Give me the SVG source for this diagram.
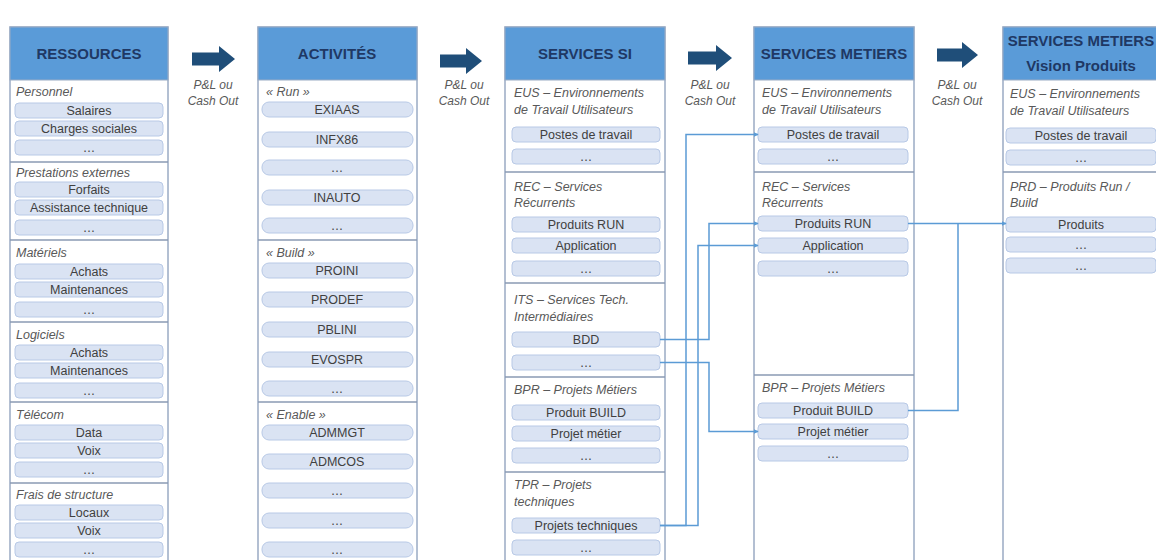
<svg xmlns="http://www.w3.org/2000/svg" width="1156" height="560" viewBox="0 0 1156 560">
<style>
.col{fill:#ffffff;stroke:#9aabc4;stroke-width:1.5}
.hdr{fill:#5a9bd8;stroke:#9aabc4;stroke-width:1}
.ht{font-family:"Liberation Sans",Arial,sans-serif;font-weight:bold;font-size:15px;fill:#1f3864;text-anchor:middle}
.div{stroke:#8a9ab3;stroke-width:1.5}
.bx{fill:#dae3f3;stroke:#b8c9e6;stroke-width:1}
.bt{font-family:"Liberation Sans",Arial,sans-serif;font-size:12.5px;fill:#404040;text-anchor:middle}
.lb{font-family:"Liberation Sans",Arial,sans-serif;font-size:12.5px;font-style:italic;fill:#595959}
.pl{font-family:"Liberation Sans",Arial,sans-serif;font-size:12px;font-style:italic;fill:#595959;text-anchor:middle}
.arr{fill:#1f4e79}
.cn{fill:none;stroke:#5b9bd5;stroke-width:1.5}
</style>
<defs>
<marker id="ah" viewBox="0 0 8 8" refX="7" refY="4" markerWidth="5" markerHeight="5" orient="auto" markerUnits="userSpaceOnUse">
<path d="M0,0 L8,4 L0,8 Z" fill="#5b9bd5"/>
</marker>
</defs>
<rect width="1156" height="560" fill="#ffffff"/>

<!-- Column 1: RESSOURCES -->
<g id="ressources">
<rect class="col" x="10" y="27" width="158" height="540"/>
<rect class="hdr" x="10" y="27" width="158" height="53"/>
<text class="ht" x="89" y="59">RESSOURCES</text>
<line class="div" x1="10" y1="162" x2="168" y2="162"/>
<line class="div" x1="10" y1="240" x2="168" y2="240"/>
<line class="div" x1="10" y1="322" x2="168" y2="322"/>
<line class="div" x1="10" y1="402" x2="168" y2="402"/>
<line class="div" x1="10" y1="483" x2="168" y2="483"/>
<text class="lb" x="16" y="96">Personnel</text>
<text class="lb" x="16" y="177">Prestations externes</text>
<text class="lb" x="16" y="257">Matériels</text>
<text class="lb" x="16" y="339">Logiciels</text>
<text class="lb" x="16" y="419">Télécom</text>
<text class="lb" x="16" y="499">Frais de structure</text>
<g id="r-salaires"><rect class="bx" x="15" y="103" width="148" height="15" rx="4"/><text class="bt" x="89" y="115">Salaires</text></g>
<g id="r-charges"><rect class="bx" x="15" y="121" width="148" height="15" rx="4"/><text class="bt" x="89" y="133">Charges sociales</text></g>
<g id="r-pers-etc"><rect class="bx" x="15" y="140" width="148" height="15" rx="4"/><text class="bt" x="89" y="152">…</text></g>
<g id="r-forfaits"><rect class="bx" x="15" y="182" width="148" height="15" rx="4"/><text class="bt" x="89" y="194">Forfaits</text></g>
<g id="r-assistance"><rect class="bx" x="15" y="200" width="148" height="15" rx="4"/><text class="bt" x="89" y="212">Assistance technique</text></g>
<g id="r-presta-etc"><rect class="bx" x="15" y="220" width="148" height="15" rx="4"/><text class="bt" x="89" y="232">…</text></g>
<g id="r-mat-achats"><rect class="bx" x="15" y="264" width="148" height="15" rx="4"/><text class="bt" x="89" y="276">Achats</text></g>
<g id="r-mat-maint"><rect class="bx" x="15" y="282" width="148" height="15" rx="4"/><text class="bt" x="89" y="294">Maintenances</text></g>
<g id="r-mat-etc"><rect class="bx" x="15" y="302" width="148" height="15" rx="4"/><text class="bt" x="89" y="314">…</text></g>
<g id="r-log-achats"><rect class="bx" x="15" y="345" width="148" height="15" rx="4"/><text class="bt" x="89" y="357">Achats</text></g>
<g id="r-log-maint"><rect class="bx" x="15" y="363" width="148" height="15" rx="4"/><text class="bt" x="89" y="375">Maintenances</text></g>
<g id="r-log-etc"><rect class="bx" x="15" y="383" width="148" height="15" rx="4"/><text class="bt" x="89" y="395">…</text></g>
<g id="r-data"><rect class="bx" x="15" y="425" width="148" height="15" rx="4"/><text class="bt" x="89" y="437">Data</text></g>
<g id="r-voix"><rect class="bx" x="15" y="443" width="148" height="15" rx="4"/><text class="bt" x="89" y="455">Voix</text></g>
<g id="r-tel-etc"><rect class="bx" x="15" y="462" width="148" height="15" rx="4"/><text class="bt" x="89" y="474">…</text></g>
<g id="r-locaux"><rect class="bx" x="15" y="505" width="148" height="15" rx="4"/><text class="bt" x="89" y="517">Locaux</text></g>
<g id="r-voix2"><rect class="bx" x="15" y="523" width="148" height="15" rx="4"/><text class="bt" x="89" y="535">Voix</text></g>
<g id="r-frais-etc"><rect class="bx" x="15" y="542" width="148" height="15" rx="4"/><text class="bt" x="89" y="554">…</text></g>
</g>

<!-- Column 2: ACTIVITES -->
<g id="activites">
<rect class="col" x="258" y="27" width="159" height="540"/>
<rect class="hdr" x="258" y="27" width="159" height="53"/>
<text class="ht" x="337" y="59">ACTIVITÉS</text>
<line class="div" x1="258" y1="240" x2="417" y2="240"/>
<line class="div" x1="258" y1="402" x2="417" y2="402"/>
<text class="lb" x="266" y="96">« Run »</text>
<text class="lb" x="266" y="257">« Build »</text>
<text class="lb" x="266" y="419">« Enable »</text>
<g id="a-exiaas"><rect class="bx" x="262" y="102" width="151" height="15" rx="7"/><text class="bt" x="337" y="114">EXIAAS</text></g>
<g id="a-infx86"><rect class="bx" x="262" y="132" width="151" height="15" rx="7"/><text class="bt" x="337" y="144">INFX86</text></g>
<g id="a-run-etc1"><rect class="bx" x="262" y="160" width="151" height="15" rx="7"/><text class="bt" x="337" y="172">…</text></g>
<g id="a-inauto"><rect class="bx" x="262" y="190" width="151" height="15" rx="7"/><text class="bt" x="337" y="202">INAUTO</text></g>
<g id="a-run-etc2"><rect class="bx" x="262" y="218" width="151" height="15" rx="7"/><text class="bt" x="337" y="230">…</text></g>
<g id="a-proini"><rect class="bx" x="262" y="263" width="151" height="15" rx="7"/><text class="bt" x="337" y="275">PROINI</text></g>
<g id="a-prodef"><rect class="bx" x="262" y="292" width="151" height="15" rx="7"/><text class="bt" x="337" y="304">PRODEF</text></g>
<g id="a-pblini"><rect class="bx" x="262" y="322" width="151" height="15" rx="7"/><text class="bt" x="337" y="334">PBLINI</text></g>
<g id="a-evospr"><rect class="bx" x="262" y="352" width="151" height="15" rx="7"/><text class="bt" x="337" y="364">EVOSPR</text></g>
<g id="a-build-etc"><rect class="bx" x="262" y="381" width="151" height="15" rx="7"/><text class="bt" x="337" y="393">…</text></g>
<g id="a-admmgt"><rect class="bx" x="262" y="425" width="151" height="15" rx="7"/><text class="bt" x="337" y="437">ADMMGT</text></g>
<g id="a-admcos"><rect class="bx" x="262" y="454" width="151" height="15" rx="7"/><text class="bt" x="337" y="466">ADMCOS</text></g>
<g id="a-en-etc1"><rect class="bx" x="262" y="483" width="151" height="15" rx="7"/><text class="bt" x="337" y="495">…</text></g>
<g id="a-en-etc2"><rect class="bx" x="262" y="513" width="151" height="15" rx="7"/><text class="bt" x="337" y="525">…</text></g>
<g id="a-en-etc3"><rect class="bx" x="262" y="542" width="151" height="15" rx="7"/><text class="bt" x="337" y="554">…</text></g>
</g>

<!-- Column 3: SERVICES SI -->
<g id="services-si">
<rect class="col" x="505" y="27" width="160" height="540"/>
<rect class="hdr" x="505" y="27" width="160" height="53"/>
<text class="ht" x="585" y="59">SERVICES SI</text>
<line class="div" x1="505" y1="172" x2="665" y2="172"/>
<line class="div" x1="505" y1="283" x2="665" y2="283"/>
<line class="div" x1="505" y1="377" x2="665" y2="377"/>
<line class="div" x1="505" y1="472" x2="665" y2="472"/>
<text class="lb" x="514" y="97">EUS – Environnements</text>
<text class="lb" x="514" y="114">de Travail Utilisateurs</text>
<text class="lb" x="514" y="191">REC – Services</text>
<text class="lb" x="514" y="207">Récurrents</text>
<text class="lb" x="514" y="304">ITS – Services Tech.</text>
<text class="lb" x="514" y="321">Intermédiaires</text>
<text class="lb" x="514" y="394">BPR – Projets Métiers</text>
<text class="lb" x="514" y="489">TPR – Projets</text>
<text class="lb" x="514" y="506">techniques</text>
<g id="si-postes"><rect class="bx" x="512" y="127" width="148" height="15" rx="4"/><text class="bt" x="586" y="139">Postes de travail</text></g>
<g id="si-eus-etc"><rect class="bx" x="512" y="149" width="148" height="15" rx="4"/><text class="bt" x="586" y="161">…</text></g>
<g id="si-produits-run"><rect class="bx" x="512" y="217" width="148" height="15" rx="4"/><text class="bt" x="586" y="229">Produits RUN</text></g>
<g id="si-application"><rect class="bx" x="512" y="238" width="148" height="15" rx="4"/><text class="bt" x="586" y="250">Application</text></g>
<g id="si-rec-etc"><rect class="bx" x="512" y="261" width="148" height="15" rx="4"/><text class="bt" x="586" y="273">…</text></g>
<g id="si-bdd"><rect class="bx" x="512" y="332" width="148" height="15" rx="4"/><text class="bt" x="586" y="344">BDD</text></g>
<g id="si-its-etc"><rect class="bx" x="512" y="355" width="148" height="15" rx="4"/><text class="bt" x="586" y="367">…</text></g>
<g id="si-produit-build"><rect class="bx" x="512" y="405" width="148" height="15" rx="4"/><text class="bt" x="586" y="417">Produit BUILD</text></g>
<g id="si-projet-metier"><rect class="bx" x="512" y="426" width="148" height="15" rx="4"/><text class="bt" x="586" y="438">Projet métier</text></g>
<g id="si-bpr-etc"><rect class="bx" x="512" y="448" width="148" height="15" rx="4"/><text class="bt" x="586" y="460">…</text></g>
<g id="si-projets-tech"><rect class="bx" x="512" y="518" width="148" height="15" rx="4"/><text class="bt" x="586" y="530">Projets techniques</text></g>
<g id="si-tpr-etc"><rect class="bx" x="512" y="540" width="148" height="15" rx="4"/><text class="bt" x="586" y="552">…</text></g>
</g>

<!-- Column 4: SERVICES METIERS -->
<g id="services-metiers">
<rect class="col" x="754" y="27" width="160" height="540"/>
<rect class="hdr" x="754" y="27" width="160" height="53"/>
<text class="ht" x="834" y="59">SERVICES METIERS</text>
<line class="div" x1="754" y1="172" x2="914" y2="172"/>
<line class="div" x1="754" y1="375" x2="914" y2="375"/>
<text class="lb" x="762" y="97">EUS – Environnements</text>
<text class="lb" x="762" y="114">de Travail Utilisateurs</text>
<text class="lb" x="762" y="191">REC – Services</text>
<text class="lb" x="762" y="207">Récurrents</text>
<text class="lb" x="762" y="392">BPR – Projets Métiers</text>
<g id="sm-postes"><rect class="bx" x="758" y="127" width="150" height="15" rx="4"/><text class="bt" x="833" y="139">Postes de travail</text></g>
<g id="sm-eus-etc"><rect class="bx" x="758" y="149" width="150" height="15" rx="4"/><text class="bt" x="833" y="161">…</text></g>
<g id="sm-produits-run"><rect class="bx" x="758" y="216" width="150" height="15" rx="4"/><text class="bt" x="833" y="228">Produits RUN</text></g>
<g id="sm-application"><rect class="bx" x="758" y="238" width="150" height="15" rx="4"/><text class="bt" x="833" y="250">Application</text></g>
<g id="sm-rec-etc"><rect class="bx" x="758" y="261" width="150" height="15" rx="4"/><text class="bt" x="833" y="273">…</text></g>
<g id="sm-produit-build"><rect class="bx" x="758" y="403" width="150" height="15" rx="4"/><text class="bt" x="833" y="415">Produit BUILD</text></g>
<g id="sm-projet-metier"><rect class="bx" x="758" y="424" width="150" height="15" rx="4"/><text class="bt" x="833" y="436">Projet métier</text></g>
<g id="sm-bpr-etc"><rect class="bx" x="758" y="446" width="150" height="15" rx="4"/><text class="bt" x="833" y="458">…</text></g>
</g>

<!-- Column 5: SERVICES METIERS Vision Produits -->
<g id="services-metiers-produits">
<rect class="col" x="1003" y="27" width="160" height="540"/>
<rect class="hdr" x="1003" y="27" width="160" height="53"/>
<text class="ht" x="1081" y="46">SERVICES METIERS</text>
<text class="ht" x="1081" y="71">Vision Produits</text>
<line class="div" x1="1003" y1="172" x2="1163" y2="172"/>
<text class="lb" x="1010" y="98">EUS – Environnements</text>
<text class="lb" x="1010" y="115">de Travail Utilisateurs</text>
<text class="lb" x="1010" y="191">PRD – Produits Run /</text>
<text class="lb" x="1010" y="207">Build</text>
<g id="vp-postes"><rect class="bx" x="1006" y="128" width="150" height="15" rx="4"/><text class="bt" x="1081" y="140">Postes de travail</text></g>
<g id="vp-eus-etc"><rect class="bx" x="1006" y="150" width="150" height="15" rx="4"/><text class="bt" x="1081" y="162">…</text></g>
<g id="vp-produits"><rect class="bx" x="1006" y="217" width="150" height="15" rx="4"/><text class="bt" x="1081" y="229">Produits</text></g>
<g id="vp-prd-etc1"><rect class="bx" x="1006" y="237" width="150" height="15" rx="4"/><text class="bt" x="1081" y="249">…</text></g>
<g id="vp-prd-etc2"><rect class="bx" x="1006" y="258" width="150" height="15" rx="4"/><text class="bt" x="1081" y="270">…</text></g>
</g>

<!-- Flow arrows between columns -->
<g id="flow-1">
<path class="arr" d="M192,52.5 H219 V46 L235,59 L219,72 V65.5 H192 Z"/>
<text class="pl" x="213" y="89">P&amp;L ou</text>
<text class="pl" x="213" y="105">Cash Out</text>
</g>
<g id="flow-2">
<path class="arr" d="M440,54.5 H466 V48 L482,61 L466,74 V67.5 H440 Z"/>
<text class="pl" x="464" y="89">P&amp;L ou</text>
<text class="pl" x="464" y="105">Cash Out</text>
</g>
<g id="flow-3">
<path class="arr" d="M688,51.5 H716 V45 L732,58 L716,71 V64.5 H688 Z"/>
<text class="pl" x="710" y="89">P&amp;L ou</text>
<text class="pl" x="710" y="105">Cash Out</text>
</g>
<g id="flow-4">
<path class="arr" d="M937,48.5 H962 V42 L978,55 L962,68 V61.5 H937 Z"/>
<text class="pl" x="957" y="89">P&amp;L ou</text>
<text class="pl" x="957" y="105">Cash Out</text>
</g>

<!-- Connectors -->
<g id="connectors">
<path class="cn" d="M660,525.5 H686 V134.5 H758" marker-end="url(#ah)"/>
<path class="cn" d="M660,525.5 H698 V245.5 H758" marker-end="url(#ah)"/>
<path class="cn" d="M660,339.5 H709 V223.5 H758" marker-end="url(#ah)"/>
<path class="cn" d="M660,362.5 H709 V431.5 H758" marker-end="url(#ah)"/>
<path class="cn" d="M908,223.5 H1006" marker-end="url(#ah)"/>
<path class="cn" d="M908,410.5 H958 V223.5"/>
</g>
</svg>
